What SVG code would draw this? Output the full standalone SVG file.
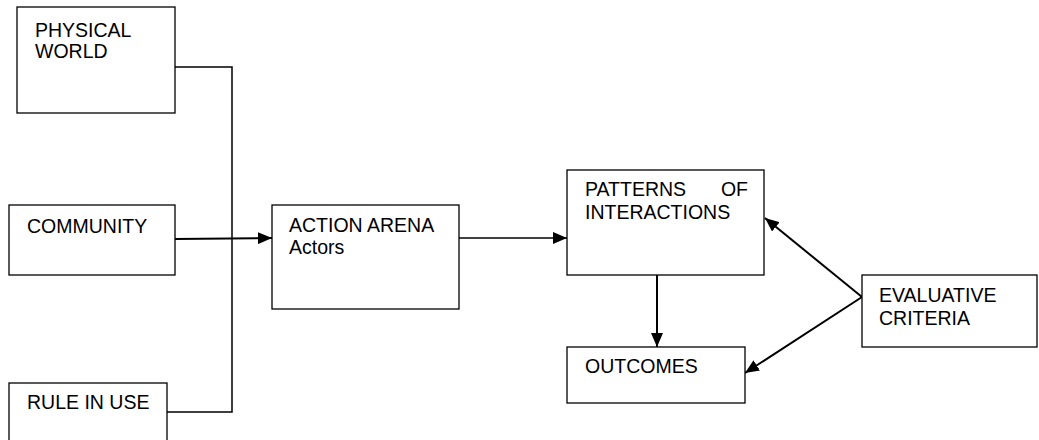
<svg xmlns="http://www.w3.org/2000/svg" width="1039" height="440" viewBox="0 0 1039 440">
<style>
.box{fill:#fff;stroke:#000;stroke-width:1.3}
.t{font-family:"Liberation Sans",Arial,sans-serif;font-size:19.5px;fill:#000}
.c{fill:none;stroke:#000;stroke-width:1.5}
.a{fill:none;stroke:#000;stroke-width:2}
</style>
<defs>
<marker id="arr" markerUnits="userSpaceOnUse" markerWidth="14" markerHeight="12" refX="14" refY="6" orient="auto">
<path d="M0,0 L14,6 L0,12 z" fill="#000"/>
</marker>
</defs>
<rect width="1039" height="440" fill="#fff"/>
<g id="connectors">
<polyline class="c" points="175,67 232,67 232,412 167,412"/>
<line class="a" x1="175" y1="239" x2="272" y2="238" marker-end="url(#arr)"/>
<line class="c" x1="459" y1="238" x2="567" y2="238" marker-end="url(#arr)"/>
<line class="a" x1="657" y1="275" x2="657" y2="347" marker-end="url(#arr)"/>
<line class="a" x1="862" y1="297" x2="765" y2="218" marker-end="url(#arr)"/>
<line class="a" x1="862" y1="297" x2="745" y2="373" marker-end="url(#arr)"/>
</g>
<g id="physical-world">
<rect class="box" x="17" y="7" width="158" height="106"/>
<text class="t" x="35" y="37">PHYSICAL</text>
<text class="t" x="35" y="58">WORLD</text>
</g>
<g id="community">
<rect class="box" x="9" y="205" width="166" height="70"/>
<text class="t" x="27" y="233">COMMUNITY</text>
</g>
<g id="rule-in-use">
<rect class="box" x="9" y="383" width="158" height="65"/>
<text class="t" x="27" y="409">RULE IN USE</text>
</g>
<g id="action-arena">
<rect class="box" x="272" y="205" width="187" height="104"/>
<text class="t" x="289" y="232">ACTION ARENA</text>
<text class="t" x="289" y="254">Actors</text>
</g>
<g id="patterns">
<rect class="box" x="567" y="170" width="197" height="105"/>
<text class="t" x="585" y="196">PATTERNS</text>
<text class="t" x="748" y="196" text-anchor="end">OF</text>
<text class="t" x="585" y="219">INTERACTIONS</text>
</g>
<g id="outcomes">
<rect class="box" x="567" y="347" width="178" height="56"/>
<text class="t" x="585" y="373">OUTCOMES</text>
</g>
<g id="evaluative-criteria">
<rect class="box" x="862" y="275" width="175" height="72"/>
<text class="t" x="879" y="302">EVALUATIVE</text>
<text class="t" x="879" y="325">CRITERIA</text>
</g>
</svg>
